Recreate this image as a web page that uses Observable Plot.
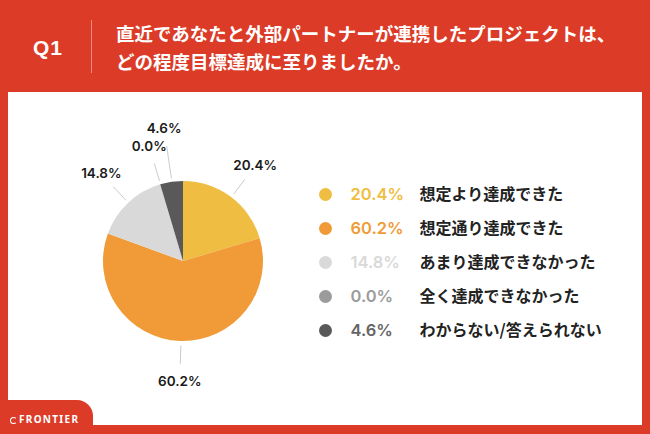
<!DOCTYPE html>
<html><head><meta charset="utf-8">
<script src="https://cdn.jsdelivr.net/npm/d3@7"></script>
<script src="https://cdn.jsdelivr.net/npm/@observablehq/plot@0.6"></script>
<style>
html,body{margin:0;padding:0;}
body{width:650px;height:434px;background:#DC3B27;position:relative;overflow:hidden;font-family:"Noto Sans CJK JP",sans-serif;}
#q{position:absolute;left:24px;top:34px;width:48px;text-align:center;color:#fff;font:700 21px "Liberation Sans","Noto Sans",sans-serif;letter-spacing:1px;line-height:28px;}
#divider{position:absolute;left:91px;top:20px;width:1px;height:53px;background:#EC8A7B;}
.tl{position:absolute;left:116px;color:#fff;font:700 18.5px "Noto Sans CJK JP",sans-serif;line-height:28px;white-space:nowrap;}
#panel{position:absolute;left:8px;top:92px;width:634px;height:333px;background:#fff;}
#pie{position:absolute;left:33px;top:93px;}
#legend{position:absolute;left:317px;top:176px;}
#tab{position:absolute;left:0;top:400px;width:93px;height:34px;background:#DC3B27;border-top-right-radius:16px;}
#logo{position:absolute;left:10px;top:413px;color:#fff;font:700 10px "Noto Sans","Liberation Sans",sans-serif;letter-spacing:1.3px;line-height:12px;white-space:nowrap;}
#logo .ic{display:inline-block;width:5px;height:5px;border:1.6px solid #fff;border-right-color:transparent;border-radius:50%;margin-right:2px;vertical-align:-1px;}
</style></head>
<body>
<div id="q">Q1</div>
<div id="divider"></div>
<div class="tl" style="top:19px">直近であなたと外部パートナーが連携したプロジェクトは、</div>
<div class="tl" style="top:47px">どの程度目標達成に至りましたか。</div>
<div id="panel"></div>
<div id="pie"></div>
<div id="legend"></div>
<div id="tab"></div>
<div id="logo"><span class="ic"></span>FRONTIER</div>
<script>
const categories = ["想定より達成できた","想定通り達成できた","あまり達成できなかった","全く達成できなかった","わからない/答えられない"];
const values = [20.4, 60.2, 14.8, 0.0, 4.6];
const labels = ["20.4%","60.2%","14.8%","0.0%","4.6%"];
const colors = ["#EFBD41","#F09B37","#D9D9D9","#9B9B9B","#595959"];
const textColors = ["#EFBD41","#F09B37","#D9D9D9","#9B9B9B","#666666"];

const arcs = d3.pie().sort(null).value(d => d)(values);
let prevMid = -Infinity;
const rows = categories.map((cat, i) => {
  const start = arcs[i].startAngle, end = arcs[i].endAngle, mid = (start + end) / 2;
  let lr = 1.5;
  if (mid - prevMid < 0.25) lr = 1.68;
  prevMid = mid;
  const l1 = 1.05, l2 = lr - 0.22;
  return {cat, value: values[i], label: labels[i], color: colors[i], tcolor: textColors[i],
    start, end, mid,
    tx: lr * Math.sin(mid), ty: lr * Math.cos(mid),
    x1: l1 * Math.sin(mid), y1: l1 * Math.cos(mid),
    x2: l2 * Math.sin(mid), y2: l2 * Math.cos(mid)};
});

const pieMark = (index, scales) => {
  const cx = scales.x(0), cy = scales.y(0), r = scales.x(1) - scales.x(0);
  const g = d3.create("svg:g").attr("transform", `translate(${cx},${cy})`);
  const arc = d3.arc().innerRadius(0).outerRadius(r);
  g.selectAll("path").data(rows).join("path")
    .attr("d", d => arc({startAngle: d.start, endAngle: d.end}))
    .attr("fill", d => d.color);
  return g.node();
};

const numFont = "Inter, Roboto, 'Liberation Sans', sans-serif";

const pie = Plot.plot({
  width: 300, height: 332, margin: 0,
  x: {domain: [-1.875, 1.875], axis: null},
  y: {domain: [-2.05, 2.1], axis: null},
  style: {background: "transparent", overflow: "visible"},
  marks: [
    Plot.link(rows, {x1: "x1", y1: "y1", x2: "x2", y2: "y2", stroke: "#CCCCCC", strokeWidth: 1}),
    pieMark,
    Plot.text(rows, {x: "tx", y: "ty", text: "label", fill: "#1a1a1a", fontSize: 13.5, fontWeight: 600, fontFamily: numFont})
  ]
});
document.getElementById("pie").appendChild(pie);

const legend = Plot.plot({
  width: 310, height: 172, margin: 0,
  y: {type: "point", domain: categories, padding: 0.5, axis: null},
  color: {type: "identity"},
  style: {background: "transparent", overflow: "visible"},
  marks: [
    Plot.dot(rows, {y: "cat", frameAnchor: "left", dx: 8, r: 6.5, fill: "color", stroke: null}),
    Plot.text(rows, {y: "cat", frameAnchor: "left", dx: 33, text: "label", fill: "tcolor", textAnchor: "start", fontSize: 16.5, fontWeight: 600, fontFamily: numFont}),
    Plot.text(rows, {y: "cat", frameAnchor: "left", dx: 102, text: "cat", fill: "#222222", textAnchor: "start", fontSize: 16, fontWeight: 700, fontFamily: "'Noto Sans CJK JP', sans-serif"})
  ]
});
document.getElementById("legend").appendChild(legend);
</script>
</body></html>
